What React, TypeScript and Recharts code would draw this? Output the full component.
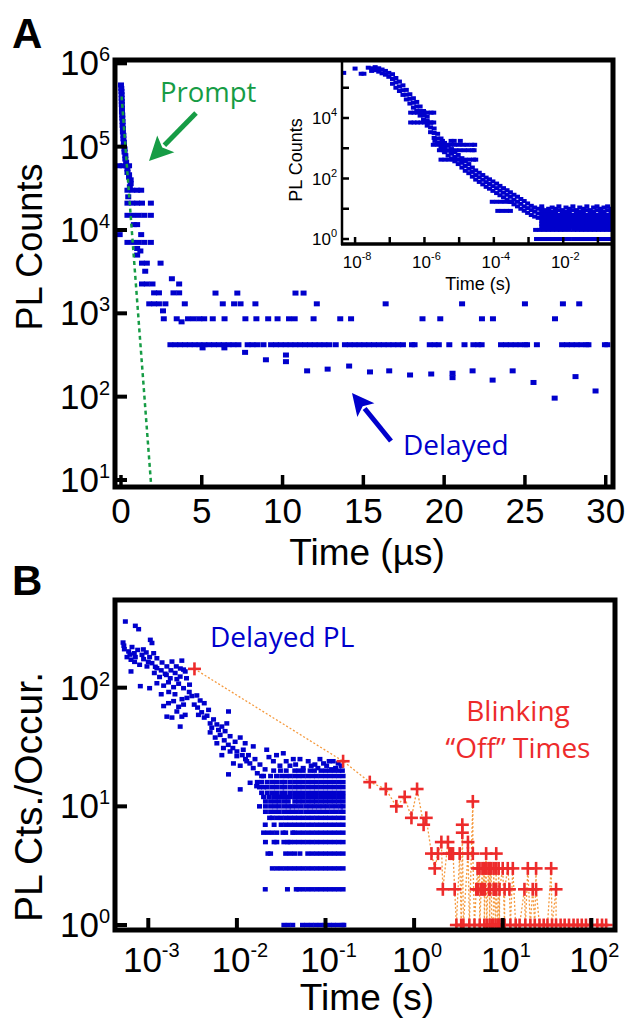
import React from 'react';
import { ScatterChart, Scatter, XAxis, YAxis } from 'recharts';

// ---------------- Panel A (main) data: time in µs, PL counts ----------------
const promptA: [number, number][] = [
  [0.0, 5.5e5], [0.02, 5.0e5], [0.03, 4.6e5], [0.04, 4.2e5], [0.04, 3.8e5], [0.05, 3.5e5], [0.05, 3.2e5],
  [0.06, 2.9e5], [0.06, 2.6e5], [0.08, 2.4e5], [0.08, 2.2e5], [0.1, 2.0e5], [0.1, 1.8e5], [0.12, 1.65e5],
  [0.12, 1.5e5], [0.15, 1.37e5], [0.15, 1.24e5], [0.18, 1.13e5], [0.18, 1.03e5], [0.22, 9.4e4], [0.22, 8.6e4],
  [0.27, 7.8e4], [0.27, 7.1e4], [0.32, 6.5e4],
  [-0.12, 5.9e4], [0.1, 5.9e4], [0.32, 5.9e4], [0.5, 5.9e4],
  [0.4, 5.4e4], [0.4, 4.9e4], [0.5, 4.6e4], [0.5, 4.3e4], [0.6, 4.0e4], [0.6, 3.6e4], [0.55, 3.3e4],
  [0.4, 3.0e4], [0.7, 3.0e4], [1.0, 3.0e4], [1.25, 3.0e4], [0.45, 2.5e4],
  [0.4, 2.1e4], [0.7, 2.1e4], [1.0, 2.1e4], [1.3, 2.1e4], [1.85, 2.1e4],
  [0.4, 1.5e4], [0.75, 1.5e4], [1.1, 1.5e4], [1.45, 1.5e4], [1.85, 1.5e4],
  [0.8, 1.16e4], [1.0, 1.16e4], [-0.08, 8.8e3], [1.25, 8.8e3],
  [0.4, 7.1e3], [0.75, 7.1e3], [1.1, 7.1e3], [1.45, 7.1e3], [1.85, 7.1e3],
  [1.0, 6.0e3], [1.2, 5.6e3], [1.0, 5.0e3], [1.3, 4.0e3], [1.6, 4.0e3], [2.45, 4.0e3], [1.5, 3.2e3], [3.15, 2.6e3],
  [1.3, 2.25e3], [1.6, 2.25e3], [1.95, 2.25e3], [3.6, 2.25e3],
  [2.05, 1.76e3], [2.35, 1.76e3], [3.25, 1.76e3], [3.6, 1.76e3],
  [1.75, 1.3e3], [2.05, 1.3e3], [2.35, 1.3e3], [2.75, 1.3e3], [3.95, 1.3e3], [2.6, 1.07e3],
];
const delayedA_1750 = [5.85, 7.2, 10.8, 11.3];
const delayedA_1300 = [6.3, 7.0, 7.4, 8.32, 12.12, 16.38, 21.11, 25.0, 27.35, 28.36];
const delayedA_860 = [2.65, 3.45, 4.15, 4.5, 4.85, 5.15, 5.68, 6.41, 7.7, 8.38, 9.11, 9.69, 10.4, 10.75, 11.92, 13.57, 14.24, 18.66, 19.76, 22.34, 23.02, 26.86];
const delayedA_420 = [3.06, 3.36, 3.66, 3.96, 4.26, 4.56, 4.86, 5.16, 5.46, 5.76, 6.06, 6.36, 6.66, 6.96, 7.27, 7.84, 8.14, 8.44, 8.82,
  9.29, 9.59, 9.89, 10.19, 10.49, 10.79, 11.09, 11.39, 11.69, 11.99, 12.29, 12.59, 12.89, 13.29, 13.86, 14.16, 14.46, 14.76,
  15.06, 15.36, 15.66, 15.96, 16.26, 16.56, 16.86, 17.16, 17.45, 18.01, 18.17, 19.11, 19.41, 19.67, 20.32, 21.26, 21.81, 22.11,
  22.32, 23.52, 23.82, 24.12, 24.42, 24.72, 25.02, 25.13, 25.74, 27.3, 27.6, 27.9, 28.2, 28.5, 28.8, 28.93, 29.95, 30.1];
const delayedA_other: [number, number][] = [
  [3.75, 790], [5.05, 385], [6.4, 385], [7.68, 340], [8.97, 277], [10.21, 316], [10.21, 263], [11.52, 204], [12.79, 214],
  [14.12, 233], [15.41, 198], [16.6, 204], [17.89, 182], [19.2, 187], [20.52, 191], [20.52, 169], [21.76, 204], [23.0, 158],
  [24.24, 204], [25.53, 148], [26.84, 96], [28.13, 174], [29.37, 117],
];
const promptFit: [number, number][] = [[0.04, 4.0e5], [1.87, 8.5]];
const ticksA_x = [0, 5, 10, 15, 20, 25, 30];
const ticksA_y = [10, 100, 1000, 1e4, 1e5, 1e6];

// ---------------- Inset data: time in s, PL counts ----------------
const insetEarly: [number, number][] = [
  [4.7e-9, 3.1e5], [1.0e-8, 4.3e5], [1.5e-8, 2.9e5], [1.8e-8, 2.9e5], [2.4e-8, 4.6e5], [3.0e-8, 4.4e5], [3.0e-8, 3.6e5],
  [3.8e-8, 4.8e5], [3.8e-8, 3.8e5], [4.8e-8, 4.4e5], [4.8e-8, 3.4e5], [6.0e-8, 4.0e5], [6.0e-8, 3.0e5], [7.5e-8, 3.6e5],
  [7.5e-8, 2.7e5], [9.4e-8, 3.1e5], [9.4e-8, 2.3e5],
];
const insetDecay: [number, number[]][] = [
  [1.2e-7, [2.8e5, 1.95e5, 1.35e5]], [1.5e-7, [2.1e5, 1.5e5, 1.0e5]], [1.9e-7, [1.6e5, 1.1e5, 7.8e4]],
  [2.4e-7, [1.2e5, 8.3e4, 5.8e4]], [3.0e-7, [8.5e4, 5.9e4, 4.1e4]], [3.8e-7, [6.1e4, 4.3e4, 3.0e4]],
  [4.8e-7, [4.5e4, 3.2e4, 2.2e4]], [6.0e-7, [3.4e4, 2.4e4, 1.7e4]], [7.5e-7, [2.4e4, 1.7e4, 1.2e4]],
  [9.4e-7, [1.7e4, 1.2e4, 8.6e3]], [1.2e-6, [1.1e4, 8.0e3, 5.6e3]], [1.5e-6, [7.0e3, 4.9e3, 3.4e3]],
  [1.9e-6, [4.5e3, 3.2e3, 2.2e3]], [2.4e-6, [3.0e3, 2.1e3, 1.5e3]], [3.0e-6, [2.1e3, 1.5e3, 1.05e3]],
  [3.8e-6, [1.5e3, 1.05e3, 740]], [4.8e-6, [1.2e3, 830, 580]], [6.0e-6, [940, 660, 460]],
  [7.5e-6, [750, 520, 370]], [9.4e-6, [600, 430, 300]], [1.2e-5, [470, 330, 230]],
  [1.5e-5, [370, 260, 180]], [1.9e-5, [300, 210, 150]], [2.4e-5, [230, 165, 115]],
  [3.0e-5, [185, 130, 92]], [3.8e-5, [155, 110, 77]], [4.8e-5, [130, 91, 64]],
  [6.0e-5, [107, 76, 53]], [7.5e-5, [94, 66, 46]], [9.4e-5, [80, 56, 39]],
  [1.2e-4, [68, 48, 33]], [1.5e-4, [57, 40, 28]], [1.9e-4, [48, 34, 24]],
  [2.4e-4, [41, 29, 20]], [3.0e-4, [35, 25, 17]], [3.8e-4, [29, 20, 14]],
  [4.8e-4, [25, 17, 12]], [6.0e-4, [21, 14.5, 10]], [7.5e-4, [18, 12, 8.6]],
  [9.4e-4, [15, 10.5, 7.3]], [1.2e-3, [12.5, 9, 6.2]], [1.5e-3, [11, 8, 5.5]], [1.9e-3, [10, 7, 5]],
];
const insetTail: [number, number[]][] = [
  [2.4e-3, [12, 10, 8, 6.3, 5, 4, 3.2, 2.6]], [3.0e-3, [9, 8, 6.3, 5, 4, 3.2, 2.6]], [3.8e-3, [10, 8, 6.3, 5, 4, 3.2, 2.6]],
  [4.8e-3, [11, 8, 6.3, 5, 4, 3.2, 2.6]], [6.0e-3, [10, 8, 6.3, 5, 4, 3.2, 2.6]], [7.5e-3, [12, 9, 6.3, 5, 4, 3.2, 2.6]],
  [9.4e-3, [9, 8, 6.3, 5, 4, 3.2, 2.6]], [1.2e-2, [11, 8, 6.3, 5, 4, 3.2, 2.6]], [1.5e-2, [10, 8, 6.3, 5, 4, 3.2, 2.6]],
  [1.9e-2, [12, 9, 6.3, 5, 4, 3.2, 2.6]], [2.4e-2, [9, 8, 6.3, 5, 4, 3.2, 2.6]], [3.0e-2, [11, 8, 6.3, 5, 4, 3.2, 2.6]],
  [3.8e-2, [10, 8, 6.3, 5, 4, 3.2, 2.6]], [4.8e-2, [12, 9, 6.3, 5, 4, 3.2, 2.6]], [6.0e-2, [9, 8, 6.3, 5, 4, 3.2, 2.6]],
  [7.5e-2, [11, 8, 6.3, 5, 4, 3.2, 2.6]], [9.4e-2, [12, 9, 6.3, 5, 4, 3.2, 2.6]], [0.12, [10, 8, 6.3, 5, 4, 3.2, 2.6]],
  [0.15, [11, 8, 6.3, 5, 4, 3.2, 2.6]], [0.19, [12, 9, 6.3, 5, 4, 3.2, 2.6]], [0.24, [10, 8, 6.3, 5, 4, 3.2, 2.6]],
];
const inset_15000 = [4.0e-7, 5.0e-7, 6.3e-7, 7.9e-7, 1.0e-6, 1.25e-6, 1.55e-6, 1.85e-6];
const inset_7100 = [4.0e-7, 5.0e-7, 6.3e-7, 7.9e-7, 1.0e-6, 1.25e-6, 1.55e-6, 1.85e-6];
const inset_1750 = [2.0e-6, 3.3e-6, 5.85e-6, 7.2e-6, 1.08e-5];
const inset_1300 = [1.8e-6, 2.4e-6, 3.2e-6, 4.2e-6, 5.6e-6, 7.4e-6, 9.8e-6, 1.3e-5, 1.7e-5, 2.3e-5, 2.8e-5];
const inset_860 = [2.7e-6, 3.5e-6, 4.6e-6, 6.1e-6, 8.0e-6, 1.05e-5, 1.4e-5, 1.85e-5, 2.4e-5, 2.7e-5];
const inset_420 = [3.0e-6, 3.9e-6, 5.1e-6, 6.7e-6, 8.8e-6, 1.15e-5, 1.5e-5, 2.0e-5, 2.6e-5, 3.0e-5];
const inset_17 = [9.0e-5, 1.2e-4, 1.6e-4, 2.1e-4, 2.8e-4, 3.3e-4];
const inset_8 = [1.3e-4, 1.7e-4, 2.3e-4, 3.0e-4];
const inset_2 = [1.6e-3, 2.1e-3, 2.8e-3, 3.7e-3, 4.9e-3, 6.5e-3, 8.5e-3, 1.1e-2, 1.5e-2, 2.0e-2, 2.6e-2, 3.4e-2, 4.5e-2, 6.0e-2, 7.9e-2, 0.104, 0.137, 0.18, 0.24];
const inset_1 = [1.7e-3, 2.2e-3, 2.9e-3, 3.8e-3, 5.0e-3, 6.6e-3, 8.7e-3, 1.15e-2, 1.5e-2, 2.0e-2, 2.6e-2, 3.4e-2, 4.5e-2, 6.0e-2, 7.9e-2, 0.104, 0.137, 0.18, 0.24];
const ticksInset_x = [1e-8, 1e-7, 1e-6, 1e-5, 1e-4, 1e-3, 1e-2, 1e-1];
const ticksInset_y = [1, 10, 100, 1000, 1e4, 1e5];

// ---------------- Panel B data: time in s, counts / occurrences ----------------
const delayedB_scatter: [number, number][] = [
  [5.51e-4, 361], [7.14e-4, 332], [7.78e-4, 311], [5.19e-4, 240], [1.054e-3, 253], [1.10e-3, 238],
  [5.37e-4, 211], [6.0e-4, 202], [6.55e-4, 220], [6.95e-4, 195], [7.59e-4, 208], [8.49e-4, 189], [9.48e-4, 198],
  [1.035e-3, 181], [1.15e-3, 195], [1.25e-3, 177], [5.75e-4, 181], [6.38e-4, 172], [7.14e-4, 181], [8.85e-4, 174],
  [7.98e-4, 156], [6.38e-4, 137], [8.13e-4, 103], [1.035e-3, 99],
  [9.66e-4, 151], [1.10e-3, 161], [1.25e-3, 146], [1.43e-3, 163], [1.62e-3, 151], [1.85e-3, 166], [2.07e-3, 151],
  [2.39e-3, 169], [2.50e-3, 142], [1.17e-3, 133], [1.34e-3, 123], [1.55e-3, 131], [1.77e-3, 120], [2.01e-3, 133],
  [2.29e-3, 124], [2.61e-3, 137], [1.25e-3, 109], [1.49e-3, 104], [1.69e-3, 111], [1.93e-3, 101], [2.20e-3, 108],
  [2.50e-3, 99], [2.92e-3, 106],
  [1.49e-3, 70], [1.69e-3, 74], [1.93e-3, 77], [2.20e-3, 69], [2.50e-3, 72], [2.73e-3, 82], [3.10e-3, 85],
  [3.53e-3, 86], [3.85e-3, 78], [4.28e-3, 74], [4.79e-3, 65], [1.62e-3, 57], [1.85e-3, 56], [2.29e-3, 47],
  [2.10e-3, 63], [2.39e-3, 57], [2.61e-3, 59], [3.68e-3, 59], [4.28e-3, 56], [4.99e-3, 50], [5.45e-3, 54],
  [5.94e-3, 49], [6.76e-3, 47], [7.69e-3, 50], [8.04e-3, 63],
  [4.99e-3, 42], [5.69e-3, 38], [6.47e-3, 40], [7.36e-3, 43], [8.38e-3, 39], [9.55e-3, 35], [1.09e-2, 38],
  [1.24e-2, 34], [5.94e-3, 34], [7.05e-3, 31], [8.38e-3, 29], [9.98e-3, 26.5], [1.18e-2, 30], [1.35e-2, 27],
  [1.53e-2, 32], [6.76e-3, 27], [8.04e-3, 18.6], [9.14e-3, 23], [1.09e-2, 22], [1.29e-2, 24], [1.53e-2, 21],
  [1.82e-2, 22.5], [2.17e-2, 30], [2.08e-2, 20.5], [1.09e-2, 13.9], [1.41e-2, 15.8], [1.67e-2, 14.8],
  [3.34e-2, 28], [4.33e-2, 25], [5.15e-2, 25], [6.38e-2, 24], [8.65e-2, 25], [0.122, 24], [0.139, 23],
  [2.58e-2, 24], [3.06e-2, 22], [3.97e-2, 22], [7.59e-2, 22.5], [0.103, 22], [0.117, 20.5],
  [5.3e-4, 226], [6.2e-4, 190], [7.0e-4, 165], [8.8e-4, 210], [1.0e-3, 165], [1.2e-3, 150], [1.4e-3, 140],
  [1.6e-3, 128], [1.8e-3, 140], [2.1e-3, 118], [2.3e-3, 145], [2.7e-3, 120], [1.4e-3, 88], [1.7e-3, 92],
  [2.0e-3, 88], [2.4e-3, 80], [2.9e-3, 92], [3.3e-3, 72], [3.6e-3, 68], [4.0e-3, 62], [4.6e-3, 58], [5.2e-3, 46],
  [6.2e-3, 44], [7.2e-3, 36], [8.0e-3, 33], [9.0e-3, 31], [1.0e-2, 29], [1.15e-2, 27], [1.25e-2, 25], [1.4e-2, 23],
  [1.6e-2, 25], [1.7e-2, 19], [1.9e-2, 18], [2.3e-2, 26], [2.8e-2, 27], [3.6e-2, 24], [4.6e-2, 22.5], [5.6e-2, 21],
  [6.9e-2, 22], [8.2e-2, 21], [9.5e-2, 23], [0.11, 24], [0.13, 21], [0.15, 22],
];
const delayedB_20 = [0.026, 0.031, 0.036, 0.045, 0.05, 0.056, 0.067, 0.075, 0.089, 0.1, 0.112, 0.126, 0.141, 0.155];
const delayedB_18 = [0.02, 0.024, 0.028, 0.032, 0.036, 0.04, 0.045, 0.05, 0.056, 0.063, 0.071, 0.079, 0.089, 0.1, 0.112, 0.126, 0.141, 0.158];
const delayedB_16 = [0.017, 0.019, 0.022, 0.025, 0.028, 0.032, 0.035, 0.04, 0.045, 0.05, 0.056, 0.063, 0.071, 0.079, 0.089, 0.1, 0.112, 0.126, 0.141, 0.158];
const delayedB_14 = [0.018, 0.02, 0.022, 0.025, 0.028, 0.032, 0.035, 0.04, 0.045, 0.05, 0.056, 0.063, 0.071, 0.079, 0.089, 0.1, 0.112, 0.126, 0.141, 0.158];
const delayedB_13 = [0.019, 0.022, 0.025, 0.028, 0.032, 0.035, 0.04, 0.045, 0.05, 0.056, 0.063, 0.071, 0.079, 0.089, 0.1, 0.112, 0.126, 0.141, 0.158];
const delayedB_12 = [0.02, 0.023, 0.026, 0.029, 0.032, 0.036, 0.04, 0.045, 0.05, 0.056, 0.063, 0.071, 0.079, 0.089, 0.1, 0.112, 0.126, 0.141, 0.158];
const delayedB_11 = [0.021, 0.024, 0.027, 0.03, 0.034, 0.038, 0.045, 0.05, 0.056, 0.063, 0.071, 0.079, 0.089, 0.1, 0.112, 0.126, 0.141, 0.158];
const delayedB_10 = [0.018, 0.021, 0.024, 0.027, 0.03, 0.034, 0.038, 0.042, 0.047, 0.053, 0.06, 0.067, 0.075, 0.084, 0.094, 0.105, 0.118, 0.132, 0.148, 0.158];
const delayedB_9 = [0.021, 0.024, 0.027, 0.03, 0.034, 0.038, 0.042, 0.047, 0.053, 0.06, 0.067, 0.075, 0.084, 0.094, 0.105, 0.118, 0.132, 0.148, 0.158];
const delayedB_8 = [0.0234, 0.0251, 0.0282, 0.0316, 0.0355, 0.0398, 0.0447, 0.0501, 0.0562, 0.0631, 0.0708, 0.0794, 0.0891, 0.1, 0.112, 0.126, 0.141, 0.158];
const delayedB_7 = [0.0209, 0.0263, 0.0316, 0.0355, 0.0398, 0.0447, 0.0501, 0.0562, 0.0631, 0.0708, 0.0794, 0.0891, 0.1, 0.112, 0.126, 0.141, 0.158];
const delayedB_6 = [0.02, 0.0224, 0.0251, 0.0282, 0.0331, 0.0355, 0.0427, 0.0447, 0.0501, 0.0562, 0.0631, 0.0708, 0.0794, 0.0891, 0.1, 0.112, 0.126, 0.141, 0.158];
const delayedB_5 = [0.021, 0.0263, 0.0282, 0.0339, 0.0376, 0.0398, 0.0447, 0.0501, 0.0562, 0.0631, 0.0708, 0.0794, 0.0891, 0.1, 0.112, 0.126, 0.141, 0.158];
const delayedB_4 = [0.0224, 0.024, 0.0355, 0.0398, 0.0447, 0.0514, 0.0631, 0.0708, 0.0794, 0.0891, 0.1, 0.112, 0.126, 0.141, 0.158];
const delayedB_3 = [0.0251, 0.0282, 0.0316, 0.0355, 0.0398, 0.0447, 0.0501, 0.0562, 0.0631, 0.0708, 0.0794, 0.0891, 0.1, 0.112, 0.126, 0.141, 0.158];
const delayedB_2 = [0.0209, 0.0372, 0.0468, 0.0501, 0.0562, 0.0631, 0.0708, 0.0794, 0.0891, 0.1, 0.112, 0.126, 0.141, 0.158];
const delayedB_1 = [0.0339, 0.038, 0.0427, 0.055, 0.0617, 0.0692, 0.0776, 0.0871, 0.0977, 0.11, 0.123, 0.138, 0.155, 0.161];
const blinkingOffB: [number, number][] = [
  [3.32e-3, 144], [0.158, 24], [0.316, 16], [0.479, 14], [0.63, 10], [0.783, 12], [0.933, 8], [1.08, 14], [1.28, 7],
  [1.37, 8], [1.57, 4], [1.71, 3], [1.86, 4], [2.03, 5], [2.11, 2], [2.41, 5], [2.5, 4], [2.63, 4], [2.75, 4], [2.87, 2],
  [3.0, 1], [3.27, 4], [3.4, 1], [3.5, 6], [3.5, 7], [3.6, 1], [4.05, 4], [4.05, 5], [4.2, 1], [4.6, 11], [4.6, 4],
  [4.8, 1], [5.03, 2], [5.2, 3], [5.3, 2], [5.48, 3], [5.5, 1], [5.72, 2], [5.9, 3], [6.0, 2], [6.2, 3], [6.2, 1],
  [6.3, 2], [6.5, 4], [6.5, 3], [6.6, 1], [6.9, 3], [7.0, 2], [7.1, 3], [7.1, 1], [7.2, 2], [7.4, 3], [7.5, 1],
  [7.8, 1], [7.9, 2], [7.9, 3], [8.0, 2], [8.3, 1], [8.45, 4], [8.45, 3], [8.45, 2], [8.8, 1], [9.0, 3], [9.2, 1],
  [9.2, 2], [10.0, 3], [10.5, 1], [10.5, 2], [11.4, 3], [11.9, 2], [12.2, 1], [13.0, 3], [14.0, 1], [15.5, 1],
  [17.6, 2], [18.0, 1], [19.2, 3], [20.5, 1], [21.8, 2], [23.0, 1], [23.8, 3], [23.8, 2], [26.0, 1], [29.0, 1],
  [32.0, 1], [35.2, 3], [36.0, 1], [40.0, 2], [40.0, 1], [45.0, 1], [50.0, 1], [56.0, 1], [63.0, 1], [70.0, 1],
  [78.0, 1], [87.0, 1], [97.0, 1], [117.0, 1], [132.0, 1], [147.0, 1],
];
const ticksB_x = [1e-3, 1e-2, 1e-1, 1, 10, 100];
const ticksB_y = [1, 10, 100];

// ---------------- helpers ----------------
type Pt = { x: number; y: number };
const fromPairs = (a: [number, number][]): Pt[] => a.map(([x, y]) => ({ x, y }));
const fromLevel = (ts: number[], c: number): Pt[] => ts.map((t) => ({ x: t, y: c }));
const fromColumns = (cols: [number, number[]][]): Pt[] => cols.flatMap(([t, cs]) => cs.map((c) => ({ x: t, y: c })));

const BLUE = '#0000cc';
const GREEN = '#169c45';
const RED = '#ed2b2b';
const ORANGE = '#f59a3f';
const AF = '"Liberation Sans", Arial, Helvetica, sans-serif';
const TF = '"Open Sans", "Noto Sans", sans-serif';

const mainA: Pt[] = [
  ...fromPairs(promptA),
  ...fromLevel(delayedA_1750, 1750),
  ...fromLevel(delayedA_1300, 1300),
  ...fromLevel(delayedA_860, 860),
  ...fromLevel(delayedA_420, 420),
  ...fromPairs(delayedA_other),
];
const insetPts: Pt[] = [
  ...fromPairs(insetEarly),
  ...fromColumns(insetDecay),
  ...fromColumns(insetTail),
  ...fromLevel(inset_15000, 1.5e4),
  ...fromLevel(inset_7100, 7100),
  ...fromLevel(inset_1750, 1750),
  ...fromLevel(inset_1300, 1300),
  ...fromLevel(inset_860, 860),
  ...fromLevel(inset_420, 420),
  ...fromLevel(inset_17, 17),
  ...fromLevel(inset_8, 8.5),
  ...fromLevel(inset_2, 2),
  ...fromLevel(inset_1, 1),
];
const delayedB: Pt[] = [
  ...fromPairs(delayedB_scatter),
  ...fromLevel(delayedB_20, 20), ...fromLevel(delayedB_18, 18), ...fromLevel(delayedB_16, 16),
  ...fromLevel(delayedB_14, 14.5), ...fromLevel(delayedB_13, 13), ...fromLevel(delayedB_12, 12),
  ...fromLevel(delayedB_11, 11), ...fromLevel(delayedB_10, 10), ...fromLevel(delayedB_9, 9),
  ...fromLevel(delayedB_8, 8), ...fromLevel(delayedB_7, 7), ...fromLevel(delayedB_6, 6),
  ...fromLevel(delayedB_5, 5), ...fromLevel(delayedB_4, 4), ...fromLevel(delayedB_3, 3),
  ...fromLevel(delayedB_2, 2), ...fromLevel(delayedB_1, 1),
];
const offB: Pt[] = fromPairs(blinkingOffB);

const square = (w: number, h: number, color: string) => (p: any) => {
  if (p.cx == null || p.cy == null) return <g />;
  return <rect x={p.cx - w / 2} y={p.cy - h / 2} width={w} height={h} fill={color} />;
};
const crossShape = (p: any) => {
  if (p.cx == null || p.cy == null) return <g />;
  return (
    <g stroke={RED} strokeWidth={2.6}>
      <line x1={p.cx - 6.5} x2={p.cx + 6.5} y1={p.cy} y2={p.cy} />
      <line x1={p.cx} x2={p.cx} y1={p.cy - 6.5} y2={p.cy + 6.5} />
    </g>
  );
};
const noShape = () => <g />;
const expOf = (v: number) => Math.round(Math.log10(v));

type TickCfg = { len: number; sw: number; fs: number; sfs: number; gap: number; base: number; sup: number; show: (e: number) => boolean };
const logYTick = (c: TickCfg) => (p: any) => {
  const e = expOf(p.payload.value);
  return (
    <g>
      <line x1={p.x} x2={p.x + c.len} y1={p.y} y2={p.y} stroke="#000" strokeWidth={c.sw} />
      {c.show(e) && (
        <text x={p.x - c.gap} y={p.y + c.base} textAnchor="end" fontFamily={AF} fontSize={c.fs} fill="#000">
          10<tspan dy={c.sup} fontSize={c.sfs}>{e}</tspan>
        </text>
      )}
    </g>
  );
};
const logXTick = (c: TickCfg) => (p: any) => {
  const e = expOf(p.payload.value);
  return (
    <g>
      <line x1={p.x} x2={p.x} y1={p.y} y2={p.y - c.len} stroke="#000" strokeWidth={c.sw} />
      {c.show(e) && (
        <text x={p.x + c.gap} y={p.y + c.base} textAnchor="middle" fontFamily={AF} fontSize={c.fs} fill="#000">
          10<tspan dy={c.sup} fontSize={c.sfs}>{e}</tspan>
        </text>
      )}
    </g>
  );
};
const linXTickA = (p: any) => (
  <g>
    <line x1={p.x} x2={p.x} y1={p.y} y2={p.y - 12} stroke="#000" strokeWidth={3.5} />
    <text x={p.x} y={p.y + 36} textAnchor="middle" fontFamily={AF} fontSize={35} fill="#000">{p.payload.value}</text>
  </g>
);

const Arrow = ({ x1, y1, x2, y2, color, w, hl, hw }: any) => {
  const dx = x2 - x1, dy = y2 - y1, L = Math.hypot(dx, dy);
  const ux = dx / L, uy = dy / L, px = -uy, py = ux;
  const bx = x2 - ux * hl, by = y2 - uy * hl;
  return (
    <g>
      <line x1={x1} y1={y1} x2={bx + ux * 2} y2={by + uy * 2} stroke={color} strokeWidth={w} />
      <polygon points={`${x2},${y2} ${bx + (px * hw) / 2},${by + (py * hw) / 2} ${bx + ux * 5},${by + uy * 5} ${bx - (px * hw) / 2},${by - (py * hw) / 2}`} fill={color} />
    </g>
  );
};

const all = (_e: number) => true;
const even = (e: number) => e % 2 === 0;

export default function App() {
  return (
    <div style={{ position: 'absolute', left: 0, top: 0, width: 630, height: 1022, background: '#fff', overflow: 'hidden' }}>
      {/* Panel A main */}
      <div style={{ position: 'absolute', left: 0, top: 0 }}>
        <ScatterChart width={630} height={570} margin={{ top: 60, right: 17, bottom: 82, left: 114 }}>
          <XAxis dataKey="x" type="number" domain={[-0.37, 30.45]} allowDataOverflow ticks={ticksA_x} interval={0}
            tick={linXTickA} tickLine={false} axisLine={false} tickSize={0} tickMargin={0} height={1} />
          <YAxis dataKey="y" type="number" scale="log" domain={[8.24, 1.096e6]} allowDataOverflow ticks={ticksA_y} interval={0}
            tick={logYTick({ len: 12, sw: 4, fs: 35, sfs: 20, gap: 5, base: 12, sup: -14, show: all })}
            tickLine={false} axisLine={false} tickSize={0} tickMargin={0} width={1} />
          <Scatter data={mainA} shape={square(6, 5, BLUE)} isAnimationActive={false} />
          <Scatter data={fromPairs(promptFit)} shape={noShape} isAnimationActive={false}
            line={{ stroke: GREEN, strokeWidth: 2.5, strokeDasharray: '4 3.5' }} lineType="joint" />
        </ScatterChart>
      </div>
      {/* inset background */}
      <div style={{ position: 'absolute', left: 342, top: 60, width: 271, height: 184, background: '#fff' }} />
      {/* Inset */}
      <div style={{ position: 'absolute', left: 0, top: 0 }}>
        <ScatterChart width={630} height={300} margin={{ top: 60, right: 17, bottom: 55, left: 341 }}>
          <XAxis dataKey="x" type="number" scale="log" domain={[4.2e-9, 0.272]} allowDataOverflow ticks={ticksInset_x} interval={0}
            tick={logXTick({ len: 7, sw: 2.5, fs: 17, sfs: 11, gap: 2, base: 24, sup: -8, show: even })}
            tickLine={false} axisLine={false} tickSize={0} tickMargin={0} height={1} />
          <YAxis dataKey="y" type="number" scale="log" domain={[0.684, 8.26e5]} allowDataOverflow ticks={ticksInset_y} interval={0}
            tick={logYTick({ len: 7, sw: 2.5, fs: 17, sfs: 11, gap: 5, base: 6, sup: -8, show: even })}
            tickLine={false} axisLine={false} tickSize={0} tickMargin={0} width={1} />
          <Scatter data={insetPts} shape={square(5, 4, BLUE)} isAnimationActive={false} />
        </ScatterChart>
      </div>
      {/* Panel B */}
      <div style={{ position: 'absolute', left: 0, top: 560 }}>
        <ScatterChart width={630} height={462} margin={{ top: 40, right: 15, bottom: 91, left: 114 }}>
          <XAxis dataKey="x" type="number" scale="log" domain={[4.21e-4, 185]} allowDataOverflow ticks={ticksB_x} interval={0}
            tick={logXTick({ len: 12, sw: 4, fs: 35, sfs: 20, gap: 3, base: 42, sup: -15, show: all })}
            tickLine={false} axisLine={false} tickSize={0} tickMargin={0} height={1} />
          <YAxis dataKey="y" type="number" scale="log" domain={[0.908, 548]} allowDataOverflow ticks={ticksB_y} interval={0}
            tick={logYTick({ len: 12, sw: 4, fs: 35, sfs: 20, gap: 5, base: 12, sup: -14, show: all })}
            tickLine={false} axisLine={false} tickSize={0} tickMargin={0} width={1} />
          <Scatter data={delayedB} shape={square(5, 4.5, BLUE)} isAnimationActive={false} />
          <Scatter data={offB} shape={crossShape} isAnimationActive={false}
            line={{ stroke: ORANGE, strokeWidth: 1.3, strokeDasharray: '2 2' }} lineType="joint" />
        </ScatterChart>
      </div>
      {/* frames, titles and annotations */}
      <svg style={{ position: 'absolute', left: 0, top: 0 }} width={630} height={1022}>
        <rect x={115} y={60} width={498} height={427} fill="none" stroke="#000" strokeWidth={5} />
        <line x1={342} y1={60} x2={342} y2={245} stroke="#000" strokeWidth={2.5} />
        <line x1={341} y1={244} x2={613} y2={244} stroke="#000" strokeWidth={3.5} />
        <rect x={115} y={600} width={500} height={330} fill="none" stroke="#000" strokeWidth={5} />

        <text x={12} y={48} fontFamily={AF} fontWeight="bold" fontSize={42} fill="#000">A</text>
        <text x={12} y={595} fontFamily={AF} fontWeight="bold" fontSize={42} fill="#000">B</text>

        <text transform="translate(42,247) rotate(-90)" textAnchor="middle" fontFamily={AF} fontSize={36} fill="#000">PL Counts</text>
        <text x={367} y={565} textAnchor="middle" fontFamily={AF} fontSize={37} fill="#000">Time (µs)</text>
        <text transform="translate(302,160) rotate(-90)" textAnchor="middle" fontFamily={AF} fontSize={18} fill="#000">PL Counts</text>
        <text x={478} y={290} textAnchor="middle" fontFamily={AF} fontSize={18} fill="#000">Time (s)</text>
        <text transform="translate(42,797) rotate(-90)" textAnchor="middle" fontFamily={AF} fontSize={39} fill="#000">PL Cts./Occur.</text>
        <text x={367} y={1010} textAnchor="middle" fontFamily={AF} fontSize={37} fill="#000">Time (s)</text>

        <text x={160} y={102} fontFamily={TF} fontSize={27.5} fill={GREEN}>Prompt</text>
        <Arrow x1={196} y1={113} x2={149} y2={161} color={GREEN} w={5} hl={24} hw={24} />
        <text x={403} y={455} fontFamily={TF} fontSize={28} fill={BLUE}>Delayed</text>
        <Arrow x1={391} y1={441} x2={352} y2={393} color={BLUE} w={5} hl={22} hw={22} />
        <text x={210} y={647} fontFamily={TF} fontSize={28} fill={BLUE}>Delayed PL</text>
        <text x={518} y={721} textAnchor="middle" fontFamily={TF} fontSize={28} fill={RED}>Blinking</text>
        <text x={518} y={758} textAnchor="middle" fontFamily={TF} fontSize={28} fill={RED}>“Off” Times</text>
      </svg>
    </div>
  );
}
